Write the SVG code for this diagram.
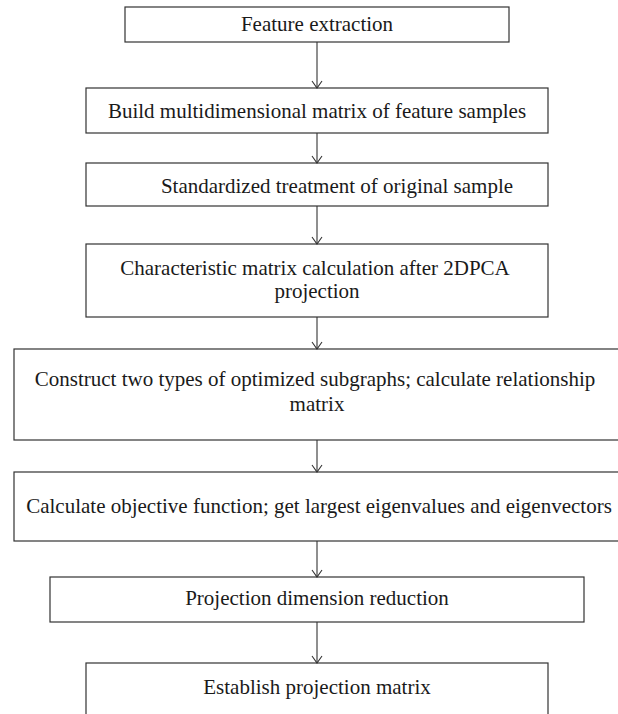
<svg xmlns="http://www.w3.org/2000/svg" width="618" height="714" viewBox="0 0 618 714">
<style>
.box{fill:#fff;stroke:#333;stroke-width:1.2}
.t{font-family:"Liberation Serif","Times New Roman",serif;font-size:21px;fill:#1a1a1a;text-anchor:middle}
.c line{stroke:#333;stroke-width:1.1}
.c path{fill:none;stroke:#333;stroke-width:1.1}
</style>
<rect width="618" height="714" fill="#fff"/>
<g id="n1"><rect class="box" x="125" y="7" width="384" height="35"/><text class="t" x="317" y="31">Feature extraction</text></g>
<g id="n2"><rect class="box" x="86" y="88" width="462" height="45"/><text class="t" x="317" y="118">Build multidimensional matrix of feature samples</text></g>
<g id="n3"><rect class="box" x="86" y="163" width="462" height="43"/><text class="t" x="337" y="193">Standardized treatment of original sample</text></g>
<g id="n4"><rect class="box" x="86" y="244" width="462" height="73"/><text class="t" x="315" y="275">Characteristic matrix calculation after  2DPCA</text><text class="t" x="317" y="298">projection</text></g>
<g id="n5"><rect class="box" x="14" y="349" width="606" height="91"/><text class="t" x="315" y="386">Construct two types of optimized subgraphs; calculate relationship</text><text class="t" x="317" y="411">matrix</text></g>
<g id="n6"><rect class="box" x="14" y="472" width="606" height="69"/><text class="t" x="319" y="513">Calculate objective function; get largest eigenvalues and eigenvectors</text></g>
<g id="n7"><rect class="box" x="50" y="577" width="534" height="45"/><text class="t" x="317" y="605">Projection dimension reduction</text></g>
<g id="n8"><rect class="box" x="86" y="663" width="462" height="60"/><text class="t" x="317" y="694">Establish projection matrix</text></g>
<g class="c" id="connectors">
<line x1="317" y1="42" x2="317" y2="88"/><path d="M312 81 L317 88 L322 81"/>
<line x1="317" y1="133" x2="317" y2="163"/><path d="M312 156 L317 163 L322 156"/>
<line x1="317" y1="206" x2="317" y2="244"/><path d="M312 237 L317 244 L322 237"/>
<line x1="317" y1="317" x2="317" y2="349"/><path d="M312 342 L317 349 L322 342"/>
<line x1="317" y1="440" x2="317" y2="472"/><path d="M312 465 L317 472 L322 465"/>
<line x1="317" y1="541" x2="317" y2="577"/><path d="M312 570 L317 577 L322 570"/>
<line x1="317" y1="622" x2="317" y2="663"/><path d="M312 656 L317 663 L322 656"/>
</g>
</svg>
